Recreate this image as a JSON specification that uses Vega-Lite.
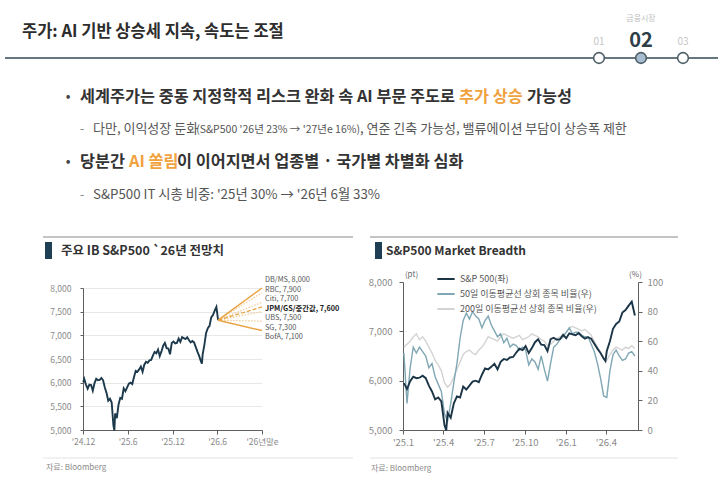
{
  "$schema": "https://vega.github.io/schema/vega-lite/v6.json",
  "background": "white",
  "padding": 0,
  "bounds": "flush",
  "spacing": 20,
  "config": {
    "font": "Noto Sans CJK KR",
    "view": {"stroke": null},
    "axis": {
      "labelFont": "Noto Sans CJK KR",
      "titleFont": "Noto Sans CJK KR",
      "labelColor": "#8a8a8a",
      "domainColor": "#5f5f5f",
      "tickColor": "#5f5f5f",
      "grid": false,
      "labelFlush": false,
      "labelOverlap": false
    },
    "legend": {"labelFont": "Noto Sans CJK KR"}
  },
  "datasets": {
    "spx": [
      {"d": "2024-12-02", "v": 6010}, {"d": "2024-12-06", "v": 6080}, {"d": "2024-12-13", "v": 5960},
      {"d": "2024-12-20", "v": 5870}, {"d": "2024-12-27", "v": 5960},
      {"d": "2025-01-03", "v": 5950}, {"d": "2025-01-10", "v": 5830}, {"d": "2025-01-17", "v": 5990},
      {"d": "2025-01-24", "v": 6080}, {"d": "2025-01-31", "v": 6050}, {"d": "2025-02-07", "v": 6060},
      {"d": "2025-02-14", "v": 6100}, {"d": "2025-02-21", "v": 6050}, {"d": "2025-02-28", "v": 5900},
      {"d": "2025-03-07", "v": 5780}, {"d": "2025-03-14", "v": 5620}, {"d": "2025-03-21", "v": 5660},
      {"d": "2025-03-28", "v": 5580}, {"d": "2025-04-04", "v": 5100}, {"d": "2025-04-08", "v": 4990},
      {"d": "2025-04-11", "v": 5350}, {"d": "2025-04-18", "v": 5250}, {"d": "2025-04-25", "v": 5540},
      {"d": "2025-05-02", "v": 5680}, {"d": "2025-05-09", "v": 5660}, {"d": "2025-05-16", "v": 5880},
      {"d": "2025-05-23", "v": 5820}, {"d": "2025-05-30", "v": 5900}, {"d": "2025-06-06", "v": 5980},
      {"d": "2025-06-13", "v": 6000}, {"d": "2025-06-20", "v": 5970}, {"d": "2025-06-27", "v": 6120},
      {"d": "2025-07-04", "v": 6250}, {"d": "2025-07-11", "v": 6230}, {"d": "2025-07-18", "v": 6280},
      {"d": "2025-07-25", "v": 6340}, {"d": "2025-08-01", "v": 6230}, {"d": "2025-08-08", "v": 6380},
      {"d": "2025-08-15", "v": 6440}, {"d": "2025-08-22", "v": 6420}, {"d": "2025-08-29", "v": 6470},
      {"d": "2025-09-05", "v": 6480}, {"d": "2025-09-12", "v": 6570}, {"d": "2025-09-19", "v": 6650},
      {"d": "2025-09-26", "v": 6620}, {"d": "2025-10-03", "v": 6700}, {"d": "2025-10-10", "v": 6560},
      {"d": "2025-10-17", "v": 6660}, {"d": "2025-10-24", "v": 6780}, {"d": "2025-10-31", "v": 6840},
      {"d": "2025-11-07", "v": 6730}, {"d": "2025-11-14", "v": 6720}, {"d": "2025-11-21", "v": 6600},
      {"d": "2025-11-28", "v": 6840}, {"d": "2025-12-05", "v": 6870}, {"d": "2025-12-12", "v": 6830},
      {"d": "2025-12-19", "v": 6840}, {"d": "2025-12-26", "v": 6930}, {"d": "2026-01-02", "v": 6860},
      {"d": "2026-01-09", "v": 6960}, {"d": "2026-01-16", "v": 6940}, {"d": "2026-01-23", "v": 6920},
      {"d": "2026-01-30", "v": 6960}, {"d": "2026-02-06", "v": 6900}, {"d": "2026-02-13", "v": 6850},
      {"d": "2026-02-20", "v": 6880}, {"d": "2026-02-27", "v": 6850}, {"d": "2026-03-06", "v": 6750},
      {"d": "2026-03-13", "v": 6650}, {"d": "2026-03-20", "v": 6560}, {"d": "2026-03-27", "v": 6450},
      {"d": "2026-03-31", "v": 6400}, {"d": "2026-04-03", "v": 6600}, {"d": "2026-04-10", "v": 6800},
      {"d": "2026-04-17", "v": 7050}, {"d": "2026-04-24", "v": 7150}, {"d": "2026-05-01", "v": 7200},
      {"d": "2026-05-08", "v": 7380}, {"d": "2026-05-15", "v": 7430}, {"d": "2026-05-22", "v": 7520},
      {"d": "2026-05-29", "v": 7600}, {"d": "2026-06-05", "v": 7320}
    ],
    "breadth": [
      {"d": "2025-01-03", "p50": 52, "p200": 56}, {"d": "2025-01-10", "p50": 18, "p200": 58},
      {"d": "2025-01-17", "p50": 42, "p200": 60}, {"d": "2025-01-24", "p50": 56, "p200": 63},
      {"d": "2025-01-31", "p50": 52, "p200": 65}, {"d": "2025-02-07", "p50": 56, "p200": 61},
      {"d": "2025-02-14", "p50": 53, "p200": 63}, {"d": "2025-02-21", "p50": 50, "p200": 60},
      {"d": "2025-02-28", "p50": 42, "p200": 56}, {"d": "2025-03-07", "p50": 45, "p200": 52},
      {"d": "2025-03-14", "p50": 36, "p200": 47}, {"d": "2025-03-21", "p50": 31, "p200": 44},
      {"d": "2025-03-28", "p50": 26, "p200": 40}, {"d": "2025-04-04", "p50": 11, "p200": 32},
      {"d": "2025-04-11", "p50": 6, "p200": 29}, {"d": "2025-04-18", "p50": 18, "p200": 31},
      {"d": "2025-04-25", "p50": 32, "p200": 36}, {"d": "2025-05-02", "p50": 45, "p200": 41},
      {"d": "2025-05-09", "p50": 62, "p200": 46}, {"d": "2025-05-16", "p50": 74, "p200": 51},
      {"d": "2025-05-23", "p50": 79, "p200": 53}, {"d": "2025-05-30", "p50": 75, "p200": 54},
      {"d": "2025-06-06", "p50": 80, "p200": 52}, {"d": "2025-06-13", "p50": 77, "p200": 51},
      {"d": "2025-06-20", "p50": 75, "p200": 54}, {"d": "2025-06-27", "p50": 69, "p200": 56},
      {"d": "2025-07-04", "p50": 74, "p200": 59}, {"d": "2025-07-11", "p50": 77, "p200": 63},
      {"d": "2025-07-18", "p50": 71, "p200": 62}, {"d": "2025-07-25", "p50": 67, "p200": 61},
      {"d": "2025-08-01", "p50": 63, "p200": 60}, {"d": "2025-08-08", "p50": 65, "p200": 63},
      {"d": "2025-08-15", "p50": 59, "p200": 65}, {"d": "2025-08-22", "p50": 62, "p200": 64},
      {"d": "2025-08-29", "p50": 56, "p200": 63}, {"d": "2025-09-05", "p50": 58, "p200": 62},
      {"d": "2025-09-12", "p50": 57, "p200": 63}, {"d": "2025-09-19", "p50": 54, "p200": 64},
      {"d": "2025-09-26", "p50": 56, "p200": 61}, {"d": "2025-10-03", "p50": 54, "p200": 62},
      {"d": "2025-10-10", "p50": 44, "p200": 63}, {"d": "2025-10-17", "p50": 48, "p200": 65},
      {"d": "2025-10-24", "p50": 46, "p200": 64}, {"d": "2025-10-31", "p50": 41, "p200": 63},
      {"d": "2025-11-07", "p50": 50, "p200": 61}, {"d": "2025-11-14", "p50": 41, "p200": 60},
      {"d": "2025-11-21", "p50": 33, "p200": 57}, {"d": "2025-11-28", "p50": 45, "p200": 58},
      {"d": "2025-12-05", "p50": 56, "p200": 60}, {"d": "2025-12-12", "p50": 58, "p200": 62},
      {"d": "2025-12-19", "p50": 61, "p200": 63}, {"d": "2025-12-26", "p50": 63, "p200": 64},
      {"d": "2026-01-02", "p50": 66, "p200": 66}, {"d": "2026-01-09", "p50": 69, "p200": 69},
      {"d": "2026-01-16", "p50": 65, "p200": 70}, {"d": "2026-01-23", "p50": 66, "p200": 69},
      {"d": "2026-01-30", "p50": 66, "p200": 68}, {"d": "2026-02-06", "p50": 64, "p200": 67},
      {"d": "2026-02-13", "p50": 63, "p200": 68}, {"d": "2026-02-20", "p50": 63, "p200": 66},
      {"d": "2026-02-27", "p50": 58, "p200": 64}, {"d": "2026-03-06", "p50": 53, "p200": 60},
      {"d": "2026-03-13", "p50": 45, "p200": 56}, {"d": "2026-03-20", "p50": 35, "p200": 52},
      {"d": "2026-03-27", "p50": 23, "p200": 48}, {"d": "2026-04-03", "p50": 22, "p200": 47},
      {"d": "2026-04-10", "p50": 40, "p200": 51}, {"d": "2026-04-17", "p50": 51, "p200": 54},
      {"d": "2026-04-24", "p50": 54, "p200": 56}, {"d": "2026-05-01", "p50": 50, "p200": 55},
      {"d": "2026-05-08", "p50": 47, "p200": 54}, {"d": "2026-05-15", "p50": 48, "p200": 56},
      {"d": "2026-05-22", "p50": 52, "p200": 55}, {"d": "2026-05-29", "p50": 53, "p200": 57},
      {"d": "2026-06-05", "p50": 50, "p200": 55}
    ],
    "fan": [
      {"ib": "DB/MS", "label": "DB/MS, 8,000", "from": "2026-06-05", "base": 7320, "to": "2026-12-01", "target": 8000, "kind": "solid"},
      {"ib": "RBC", "label": "RBC, 7,900", "from": "2026-06-05", "base": 7320, "to": "2026-12-01", "target": 7900, "kind": "dotted"},
      {"ib": "Citi", "label": "Citi, 7,700", "from": "2026-06-05", "base": 7320, "to": "2026-12-01", "target": 7700, "kind": "dotted"},
      {"ib": "JPM/GS", "label": "JPM/GS/중간값, 7,600", "from": "2026-06-05", "base": 7320, "to": "2026-12-01", "target": 7600, "kind": "median"},
      {"ib": "UBS", "label": "UBS, 7,500", "from": "2026-06-05", "base": 7320, "to": "2026-12-01", "target": 7500, "kind": "dotted"},
      {"ib": "SG", "label": "SG, 7,300", "from": "2026-06-05", "base": 7320, "to": "2026-12-01", "target": 7300, "kind": "dotted"},
      {"ib": "BofA", "label": "BofA, 7,100", "from": "2026-06-05", "base": 7320, "to": "2026-12-01", "target": 7100, "kind": "solid"}
    ]
  },
  "vconcat": [
    {
      "width": 725,
      "height": 262,
      "layer": [
        {"data": {"values": [{}]}, "mark": {"type": "text", "align": "left", "baseline": "middle", "fontSize": 16.5, "fontWeight": "bold", "color": "#2d2d2d"},
         "encoding": {"x": {"value": 22}, "y": {"value": 32}, "text": {"value": "주가: AI 기반 상승세 지속, 속도는 조절"}}},
        {"data": {"values": [{}]}, "mark": {"type": "rule", "color": "#66767e", "strokeWidth": 2},
         "encoding": {"x": {"value": 5}, "x2": {"value": 718}, "y": {"value": 58}}},
        {"data": {"values": [{"n": "01", "on": 0}, {"n": "02", "on": 1}, {"n": "03", "on": 0}]},
         "mark": {"type": "circle", "size": 115, "stroke": "#4f5f68", "strokeWidth": 1.6, "opacity": 1},
         "encoding": {
           "x": {"field": "n", "type": "ordinal", "scale": {"type": "point", "domain": ["01", "02", "03"], "range": [599, 683], "padding": 0}, "axis": null},
           "y": {"value": 58},
           "fill": {"condition": {"test": "datum.on == 1", "value": "#a8bdcf"}, "value": "#ffffff"}}},
        {"data": {"values": [{"n": "01", "on": 0}, {"n": "02", "on": 1}, {"n": "03", "on": 0}]},
         "transform": [{"filter": "datum.on == 0"}],
         "mark": {"type": "text", "baseline": "middle", "fontSize": 10, "color": "#c6c6c6"},
         "encoding": {"x": {"field": "n", "type": "ordinal", "axis": null}, "y": {"value": 42}, "text": {"field": "n"}}},
        {"data": {"values": [{"n": "01", "on": 0}, {"n": "02", "on": 1}, {"n": "03", "on": 0}]},
         "transform": [{"filter": "datum.on == 1"}],
         "mark": {"type": "text", "baseline": "middle", "fontSize": 20, "fontWeight": "bold", "color": "#2e3e48"},
         "encoding": {"x": {"field": "n", "type": "ordinal", "axis": null}, "y": {"value": 41}, "text": {"field": "n"}}},
        {"data": {"values": [{}]}, "mark": {"type": "text", "baseline": "middle", "fontSize": 8, "color": "#bdbdbd"},
         "encoding": {"x": {"value": 641}, "y": {"value": 19}, "text": {"value": "금융시장"}}},

        {"data": {"values": [{}]}, "mark": {"type": "text", "baseline": "middle", "fontSize": 14, "color": "#444"},
         "encoding": {"x": {"value": 68}, "y": {"value": 97}, "text": {"value": "•"}}},
        {"data": {"values": [{}]}, "mark": {"type": "text", "align": "right", "baseline": "middle", "fontSize": 16.3, "fontWeight": "bold", "color": "#333"},
         "encoding": {"x": {"value": 455}, "y": {"value": 97}, "text": {"value": "세계주가는 중동 지정학적 리스크 완화 속 AI 부문 주도로"}}},
        {"data": {"values": [{}]}, "mark": {"type": "text", "align": "left", "baseline": "middle", "fontSize": 16.3, "fontWeight": "bold", "color": "#f0a23e"},
         "encoding": {"x": {"value": 459}, "y": {"value": 97}, "text": {"value": "추가 상승"}}},
        {"data": {"values": [{}]}, "mark": {"type": "text", "align": "left", "baseline": "middle", "fontSize": 16.3, "fontWeight": "bold", "color": "#333"},
         "encoding": {"x": {"value": 527}, "y": {"value": 97}, "text": {"value": "가능성"}}},

        {"data": {"values": [{}]}, "mark": {"type": "text", "baseline": "middle", "fontSize": 12, "color": "#777"},
         "encoding": {"x": {"value": 82}, "y": {"value": 129}, "text": {"value": "-"}}},
        {"data": {"values": [{}]}, "mark": {"type": "text", "align": "left", "baseline": "middle", "fontSize": 13, "color": "#555"},
         "encoding": {"x": {"value": 93}, "y": {"value": 129}, "text": {"value": "다만, 이익성장 둔화"}}},
        {"data": {"values": [{}]}, "mark": {"type": "text", "align": "right", "baseline": "middle", "fontSize": 10.5, "color": "#555"},
         "encoding": {"x": {"value": 360}, "y": {"value": 130}, "text": {"value": "(S&P500 '26년 23% → '27년e 16%)"}}},
        {"data": {"values": [{}]}, "mark": {"type": "text", "align": "left", "baseline": "middle", "fontSize": 13, "color": "#555"},
         "encoding": {"x": {"value": 360}, "y": {"value": 129}, "text": {"value": ", 연준 긴축 가능성, 밸류에이션 부담이 상승폭 제한"}}},

        {"data": {"values": [{}]}, "mark": {"type": "text", "baseline": "middle", "fontSize": 14, "color": "#444"},
         "encoding": {"x": {"value": 68}, "y": {"value": 162}, "text": {"value": "•"}}},
        {"data": {"values": [{}]}, "mark": {"type": "text", "align": "left", "baseline": "middle", "fontSize": 16.3, "fontWeight": "bold", "color": "#333"},
         "encoding": {"x": {"value": 80}, "y": {"value": 162}, "text": {"value": "당분간"}}},
        {"data": {"values": [{}]}, "mark": {"type": "text", "align": "left", "baseline": "middle", "fontSize": 16.3, "fontWeight": "bold", "color": "#f0a23e"},
         "encoding": {"x": {"value": 129}, "y": {"value": 162}, "text": {"value": "AI 쏠림"}}},
        {"data": {"values": [{}]}, "mark": {"type": "text", "align": "left", "baseline": "middle", "fontSize": 16.3, "fontWeight": "bold", "color": "#333"},
         "encoding": {"x": {"value": 177}, "y": {"value": 162}, "text": {"value": "이 이어지면서 업종별 · 국가별 차별화 심화"}}},

        {"data": {"values": [{}]}, "mark": {"type": "text", "baseline": "middle", "fontSize": 12, "color": "#777"},
         "encoding": {"x": {"value": 82}, "y": {"value": 195}, "text": {"value": "-"}}},
        {"data": {"values": [{}]}, "mark": {"type": "text", "align": "left", "baseline": "middle", "fontSize": 13.3, "color": "#555"},
         "encoding": {"x": {"value": 93}, "y": {"value": 195}, "text": {"value": "S&P500 IT 시총 비중: '25년 30% → '26년 6월 33%"}}},

        {"data": {"values": [{}]}, "mark": {"type": "rule", "color": "#c4c4c4", "strokeWidth": 2},
         "encoding": {"x": {"value": 43}, "x2": {"value": 353}, "y": {"value": 237}}},
        {"data": {"values": [{}]}, "mark": {"type": "rule", "color": "#c4c4c4", "strokeWidth": 2},
         "encoding": {"x": {"value": 370}, "x2": {"value": 678}, "y": {"value": 237}}},
        {"data": {"values": [{}]}, "mark": {"type": "rect", "color": "#1f3f55"},
         "encoding": {"x": {"value": 45}, "x2": {"value": 52}, "y": {"value": 242}, "y2": {"value": 259}}},
        {"data": {"values": [{}]}, "mark": {"type": "rect", "color": "#1f3f55"},
         "encoding": {"x": {"value": 375}, "x2": {"value": 382}, "y": {"value": 242}, "y2": {"value": 259}}},
        {"data": {"values": [{}]}, "mark": {"type": "text", "align": "left", "baseline": "middle", "fontSize": 12.5, "fontWeight": "bold", "color": "#333"},
         "encoding": {"x": {"value": 61}, "y": {"value": 251}, "text": {"value": "주요 IB S&P500 `26년 전망치"}}},
        {"data": {"values": [{}]}, "mark": {"type": "text", "align": "left", "baseline": "middle", "fontSize": 12, "fontWeight": "bold", "color": "#333"},
         "encoding": {"x": {"value": 386}, "y": {"value": 251}, "text": {"value": "S&P500 Market Breadth"}}}
      ]
    },
    {
      "bounds": "flush",
      "spacing": 0,
      "hconcat": [
        {"width": 83, "height": 148, "data": {"values": [{}]}, "mark": {"type": "text"}, "encoding": {"text": {"value": ""}}},
        {
          "bounds": "flush",
          "spacing": 141,
          "hconcat": [
            {
              "width": 179,
              "height": 148,
              "layer": [
                {
                  "layer": [
                    {
                      "data": {"name": "spx"},
                      "mark": {"type": "line", "color": "#1c3a4c", "strokeWidth": 1.9},
                      "encoding": {
                        "x": {
                          "field": "d", "type": "temporal", "title": null,
                          "scale": {"domain": [{"year": 2024, "month": 12, "date": 1}, {"year": 2026, "month": 12, "date": 1}]},
                          "axis": {
                            "values": [{"year": 2024, "month": 12, "date": 1}, {"year": 2025, "month": 6, "date": 1}, {"year": 2025, "month": 12, "date": 1}, {"year": 2026, "month": 6, "date": 1}, {"year": 2026, "month": 12, "date": 1}],
                            "tickCount": 20,
                            "labelExpr": "(month(datum.value) == 11 && year(datum.value) == 2026) ? \"'26년말e\" : timeFormat(datum.value, \"'%y.%-m\")",
                            "labelFontSize": 8.5, "tickSize": 4, "labelPadding": 3, "labelFlush": false, "labelOverlap": false
                          }
                        },
                        "y": {
                          "field": "v", "type": "quantitative", "title": null,
                          "scale": {"domain": [5000, 8000], "range": [148, 6], "nice": false, "zero": false},
                          "axis": {"values": [5000, 5500, 6000, 6500, 7000, 7500, 8000], "tickCount": 20, "format": ",.0f", "grid": true, "gridColor": "#e8e8e8",
                                   "labelFontSize": 8.5, "tickSize": 3, "labelPadding": 9, "labelOverlap": false}
                        }
                      }
                    },
                    {
                      "data": {"name": "fan"},
                      "transform": [{"filter": "datum.kind == 'dotted'"}],
                      "mark": {"type": "rule", "color": "#f3c990", "strokeWidth": 1.2, "strokeDash": [1.5, 1.5]},
                      "encoding": {
                        "x": {"field": "from", "type": "temporal", "title": null},
                        "y": {"field": "base", "type": "quantitative", "title": null},
                        "x2": {"field": "to"},
                        "y2": {"field": "target"}
                      }
                    },
                    {
                      "data": {"name": "fan"},
                      "transform": [{"filter": "datum.kind == 'median'"}],
                      "mark": {"type": "rule", "color": "#eaa444", "strokeWidth": 1.3, "strokeDash": [4, 2]},
                      "encoding": {
                        "x": {"field": "from", "type": "temporal", "title": null},
                        "y": {"field": "base", "type": "quantitative", "title": null},
                        "x2": {"field": "to"},
                        "y2": {"field": "target"}
                      }
                    },
                    {
                      "data": {"name": "fan"},
                      "transform": [{"filter": "datum.kind == 'solid'"}],
                      "mark": {"type": "rule", "color": "#e9a444", "strokeWidth": 1.5},
                      "encoding": {
                        "x": {"field": "from", "type": "temporal", "title": null},
                        "y": {"field": "base", "type": "quantitative", "title": null},
                        "x2": {"field": "to"},
                        "y2": {"field": "target"}
                      }
                    }
                  ]
                },
                {
                  "layer": [
                    {
                      "data": {"name": "fan"},
                      "transform": [{"filter": "datum.ib != 'JPM/GS'"}],
                      "mark": {"type": "text", "align": "left", "baseline": "middle", "dx": 3, "fontSize": 7.3, "color": "#555"},
                      "encoding": {
                        "x": {"field": "to", "type": "temporal", "title": null},
                        "y": {"field": "ib", "type": "ordinal", "title": null, "axis": null,
                              "scale": {"type": "point", "domain": ["DB/MS", "RBC", "Citi", "JPM/GS", "UBS", "SG", "BofA"], "range": [-2, 55], "padding": 0}},
                        "text": {"field": "label"}
                      }
                    },
                    {
                      "data": {"name": "fan"},
                      "transform": [{"filter": "datum.ib == 'JPM/GS'"}],
                      "mark": {"type": "text", "align": "left", "baseline": "middle", "dx": 3, "fontSize": 7.3, "fontWeight": "bold", "color": "#222"},
                      "encoding": {
                        "x": {"field": "to", "type": "temporal", "title": null},
                        "y": {"field": "ib", "type": "ordinal", "title": null, "axis": null},
                        "text": {"field": "label"}
                      }
                    }
                  ]
                },
                {"data": {"values": [{}]}, "mark": {"type": "rule", "color": "#e3e3e3", "strokeWidth": 1},
                 "encoding": {"x": {"value": -40}, "x2": {"value": 270}, "y": {"value": 176}}},
                {"data": {"values": [{}]}, "mark": {"type": "text", "align": "left", "baseline": "middle", "fontSize": 8, "color": "#8a8a8a"},
                 "encoding": {"x": {"value": -37}, "y": {"value": 186}, "text": {"value": "자료: Bloomberg"}}}
              ],
              "resolve": {"scale": {"y": "independent"}}
            },
            {
              "width": 235,
              "height": 148,
              "layer": [
                {
                  "layer": [
                    {
                      "data": {"name": "breadth"},
                      "mark": {"type": "line", "strokeWidth": 1.4},
                      "encoding": {
                        "x": {
                          "field": "d", "type": "temporal", "title": null,
                          "scale": {"domain": [{"year": 2025, "month": 1, "date": 1}, {"year": 2026, "month": 6, "date": 12}]},
                          "axis": {
                            "values": [{"year": 2025, "month": 1, "date": 1}, {"year": 2025, "month": 4, "date": 1}, {"year": 2025, "month": 7, "date": 1}, {"year": 2025, "month": 10, "date": 1}, {"year": 2026, "month": 1, "date": 1}, {"year": 2026, "month": 4, "date": 1}],
                            "tickCount": 20,
                            "format": "'%y.%-m", "labelFontSize": 9.5, "tickSize": 4, "labelPadding": 3, "labelFlush": false, "labelOverlap": false
                          }
                        },
                        "y": {
                          "field": "p200", "type": "quantitative", "title": "(%)",
                          "scale": {"domain": [0, 100], "nice": false},
                          "axis": {"orient": "right", "values": [0, 20, 40, 60, 80, 100], "tickCount": 20, "labelFontSize": 9.5, "tickSize": 4, "labelPadding": 5,
                                   "labelOverlap": false,
                                   "titleAngle": 0, "titleX": -3, "titleY": -8, "titleAlign": "center", "titleBaseline": "middle",
                                   "titleFontSize": 8, "titleFontWeight": "normal", "titleColor": "#666"}
                        },
                        "color": {
                          "datum": "p200", "type": "nominal",
                          "scale": {"domain": ["S&P 500(좌)", "p50", "p200"], "range": ["#1b3547", "#80a7b4", "#d3d3d3"]},
                          "legend": {
                            "orient": "none", "legendX": 436, "legendY": 269, "title": null, "direction": "vertical",
                            "symbolType": "stroke", "symbolSize": 300, "symbolStrokeWidth": 2,
                            "labelFontSize": 9, "labelColor": "#555", "rowPadding": -4, "padding": 0,
                            "labelExpr": "datum.label == 'p50' ? '50일 이동평균선 상회 종목 비율(우)' : datum.label == 'p200' ? '200일 이동평균선 상회 종목 비율(우)' : datum.label"
                          }
                        }
                      }
                    },
                    {
                      "data": {"name": "breadth"},
                      "mark": {"type": "line", "strokeWidth": 1.4},
                      "encoding": {
                        "x": {"field": "d", "type": "temporal", "title": null},
                        "y": {"field": "p50", "type": "quantitative", "title": "(%)"},
                        "color": {"datum": "p50", "type": "nominal"}
                      }
                    }
                  ]
                },
                {
                  "data": {"name": "spx"},
                  "transform": [{"filter": {"field": "d", "gte": {"year": 2024, "month": 12, "date": 31}}}],
                  "mark": {"type": "line", "strokeWidth": 1.9},
                  "encoding": {
                    "x": {"field": "d", "type": "temporal", "title": null},
                    "y": {
                      "field": "v", "type": "quantitative", "title": "(pt)",
                      "scale": {"domain": [5000, 8000], "nice": false, "zero": false},
                      "axis": {"orient": "left", "values": [5000, 6000, 7000, 8000], "tickCount": 20, "format": ",.0f", "labelFontSize": 9.5, "tickSize": 4, "labelPadding": 7,
                               "labelOverlap": false,
                               "titleAngle": 0, "titleX": 8, "titleY": -8, "titleAlign": "center", "titleBaseline": "middle",
                               "titleFontSize": 8, "titleFontWeight": "normal", "titleColor": "#666"}
                    },
                    "color": {"datum": "S&P 500(좌)", "type": "nominal"}
                  }
                },
                {"data": {"values": [{}]}, "mark": {"type": "rule", "color": "#e3e3e3", "strokeWidth": 1},
                 "encoding": {"x": {"value": -33}, "x2": {"value": 275}, "y": {"value": 176}}},
                {"data": {"values": [{}]}, "mark": {"type": "text", "align": "left", "baseline": "middle", "fontSize": 8, "color": "#8a8a8a"},
                 "encoding": {"x": {"value": -32}, "y": {"value": 187}, "text": {"value": "자료: Bloomberg"}}}
              ],
              "resolve": {"scale": {"y": "independent"}}
            }
          ]
        }
      ]
    }
  ]
}
